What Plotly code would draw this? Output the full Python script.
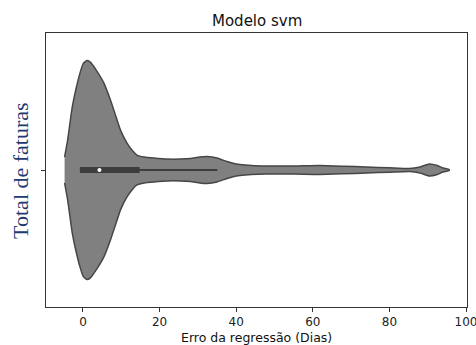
import plotly.graph_objects as go

# ---- data ----
title_text = "Modelo svm"
x_label = "Erro da regressão (Dias)"
y_label = "Total de faturas"
x_ticks = [0, 20, 40, 60, 80, 100]

# kernel density profile of the regression error (relative, peak = 1)
kde_x = [-4.8, -4.0, -2.8, -1.9, -0.8, 0.1, 1.1, 2.0, 3.5, 5.5, 7.2, 8.5, 9.8,
         11.5, 13.0, 14.1, 16.0, 18.5, 22.0, 25.4, 28.0, 30.5, 32.4, 35.0, 37.6,
         39.2, 41.0, 44.0, 48.0, 55.0, 61.8, 68.0, 74.0, 80.0, 85.2, 88.0, 90.4,
         92.5, 94.0, 95.6]
kde_d = [13, 30, 63, 80, 97, 107, 110, 108, 100, 87, 70, 55, 40,
         27, 19, 15, 13, 12, 11, 11, 11.5, 13, 13.5, 12, 8.5,
         6.7, 5.5, 4.5, 4, 4, 4.5, 3.8, 3, 2.2, 1.5, 3, 6,
         4.5, 2, 0.5]

# box-plot statistics
whisker_low = -0.8
q1 = -0.8
median = 4.3
q3 = 14.8
whisker_high = 35.1

# ---- figure ----
half_width = 0.4
dmax = max(kde_d)
upper = [half_width * d / dmax for d in kde_d]
lower = [-u for u in upper]

poly_x = kde_x + kde_x[::-1]
poly_y = upper + lower[::-1]

fig = go.Figure()
fig.add_trace(go.Scatter(
    x=poly_x, y=poly_y, mode="lines", fill="toself",
    fillcolor="#808080",
    line=dict(color="#464646", width=1.5, shape="spline", smoothing=0.5),
    hoverinfo="skip", showlegend=False,
))
# whisker
fig.add_trace(go.Scatter(
    x=[whisker_low, whisker_high], y=[0, 0], mode="lines",
    line=dict(color="#3d3d3d", width=1.8), showlegend=False, hoverinfo="skip",
))
# box
fig.add_trace(go.Scatter(
    x=[q1, q3], y=[0, 0], mode="lines",
    line=dict(color="#3d3d3d", width=6), showlegend=False, hoverinfo="skip",
))
# median
fig.add_trace(go.Scatter(
    x=[median], y=[0], mode="markers",
    marker=dict(color="white", size=4, line=dict(width=0)),
    showlegend=False, hoverinfo="skip",
))

tick_font = dict(family="DejaVu Sans", size=12, color="#222222")

fig.update_layout(
    width=476, height=345,
    margin=dict(l=46, r=9, t=33, b=38, autoexpand=False),
    paper_bgcolor="white", plot_bgcolor="white",
    showlegend=False,
    hovermode=False,
    xaxis=dict(
        range=[-9.65, 100.26], tickmode="array", tickvals=x_ticks,
        ticktext=[str(t) for t in x_ticks],
        ticks="outside", ticklen=4, tickwidth=1, tickcolor="#333333",
        showline=True, linecolor="#333333", linewidth=1, mirror=True,
        showgrid=False, zeroline=False, tickfont=tick_font,
        ticklabeloverflow="allow", automargin=False,
    ),
    yaxis=dict(
        range=[-0.5, 0.5], tickmode="array", tickvals=[0], ticktext=[""],
        ticks="outside", ticklen=4, tickwidth=1, tickcolor="#333333",
        showline=True, linecolor="#333333", linewidth=1, mirror=True,
        showgrid=False, zeroline=False, automargin=False,
    ),
    annotations=[
        dict(text=title_text, xref="paper", yref="paper", x=0.5, y=1.0456,
             xanchor="center", yanchor="middle", showarrow=False,
             font=dict(family="DejaVu Sans", size=15, color="#111111")),
        dict(text=x_label, xref="paper", yref="paper", x=0.5, y=-0.1095,
             xanchor="center", yanchor="middle", showarrow=False,
             font=dict(family="DejaVu Sans", size=12.5, color="#111111")),
        dict(text=y_label, xref="paper", yref="paper", x=-0.062, y=0.5,
             xanchor="center", yanchor="middle", showarrow=False, textangle=-90,
             font=dict(family="Liberation Serif", size=22, color="#1f3a70")),
    ],
)

fig.write_html("out.html",
               config={"displayModeBar": False, "staticPlot": True},
               post_script="document.body.style.margin='0';"
                           "document.body.style.overflow='hidden';")
